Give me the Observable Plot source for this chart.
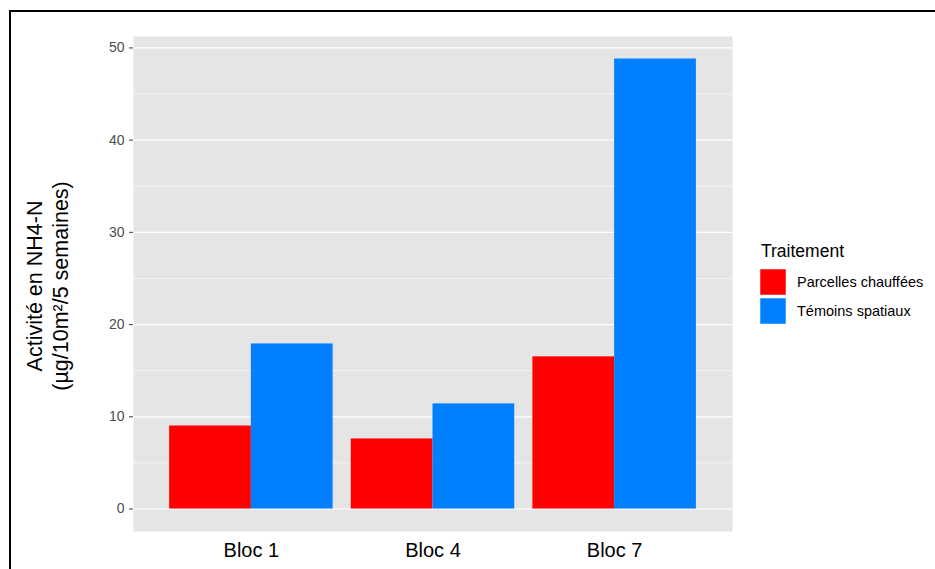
<!DOCTYPE html>
<html>
<head>
<meta charset="utf-8">
<script src="https://cdn.jsdelivr.net/npm/d3@7"></script>
<script src="https://cdn.jsdelivr.net/npm/@observablehq/plot@0.6"></script>
<style>
  html, body { margin: 0; padding: 0; background: #fff; }
  body { font-family: "Liberation Sans", Arial, Helvetica, sans-serif; }
  #wrap { position: relative; width: 935px; height: 569px; overflow: hidden; background: #fff; }
  #border { position: absolute; left: 9px; top: 10px; width: 1000px; height: 700px;
            border-top: 2px solid #000; border-left: 2px solid #000; box-sizing: border-box; }
  .layer { position: absolute; left: 0; top: 0; }
  #overlay { position: absolute; left: 0; top: 0; pointer-events: none; }
</style>
</head>
<body>
<div id="wrap">
  <div id="border"></div>
  <div id="back" class="layer"></div>
  <div id="front" class="layer"></div>
  <svg id="overlay" width="935" height="569"></svg>
</div>
<script>
// ---- data ----
const blocs = ["Bloc 1", "Bloc 4", "Bloc 7"];
const traitements = ["Parcelles chauffées", "Témoins spatiaux"];
const chauffees = [9.0, 7.6, 16.5];
const temoins = [17.9, 11.4, 48.8];
const couleurs = ["#ff0000", "#0080ff"];
const yTicks = [0, 10, 20, 30, 40, 50];
const yMinor = [5, 15, 25, 35, 45];
const yTitle = ["Activité en NH4-N", "(µg/10m²/5 semaines)"];
const legendTitle = "Traitement";

const rows = [];
blocs.forEach((b, i) => {
  rows.push({bloc: b, traitement: traitements[0], valeur: chauffees[i]});
  rows.push({bloc: b, traitement: traitements[1], valeur: temoins[i]});
});

const maxV = d3.max(rows, d => d.valeur);
const pad = maxV * 0.05;
const ff = '"Liberation Sans", Arial, sans-serif';

const common = {
  width: 935,
  height: 569,
  marginLeft: 133,
  marginRight: 203,
  marginTop: 36,
  marginBottom: 38,
  style: {fontFamily: ff, background: "transparent", overflow: "visible"}
};

// background panel: grey panel, grid lines, y axis
const back = Plot.plot({
  ...common,
  x: {domain: [0, 1], axis: null},
  y: {domain: [-pad, maxV + pad], label: null},
  marks: [
    Plot.frame({fill: "#e5e5e5", stroke: null}),
    Plot.ruleY(yMinor, {stroke: "#ffffff", strokeWidth: 0.6}),
    Plot.ruleY(yTicks, {stroke: "#ffffff", strokeWidth: 1.2}),
    Plot.axisY(yTicks, {tickSize: 4, tickPadding: 5, fontSize: 14, color: "#4d4d4d", strokeWidth: 1.1, label: null})
  ]
});
document.getElementById("back").appendChild(back);

// foreground: dodged bars
const front = Plot.plot({
  ...common,
  fx: {domain: blocs, paddingInner: 0, paddingOuter: 0.149, round: false, label: null},
  x: {domain: traitements, paddingInner: 0, paddingOuter: 0.111, round: false, axis: null},
  y: {domain: [-pad, maxV + pad], axis: null},
  color: {domain: traitements, range: couleurs},
  marks: [
    Plot.barY(rows, {fx: "bloc", x: "traitement", y: "valeur", fill: "traitement"}),
    Plot.axisFx({anchor: "bottom", tickSize: 0, tickPadding: 11, fontSize: 20, color: "#000", label: null})
  ]
});
document.getElementById("front").appendChild(front);

// ---- y title and legend (text overlay) ----
const ov = d3.select("#overlay");
const gT = ov.append("g").attr("transform", "translate(0,286) rotate(-90)");
yTitle.forEach((t, i) => {
  gT.append("text")
    .attr("x", 0).attr("y", 42 + i * 26)
    .attr("text-anchor", "middle")
    .attr("font-family", ff).attr("font-size", 21.5).attr("fill", "#000")
    .text(t);
});

ov.append("text")
  .attr("x", 761).attr("y", 257)
  .attr("font-family", ff).attr("font-size", 17.5).attr("fill", "#000")
  .text(legendTitle);

traitements.forEach((t, i) => {
  const y0 = 269 + i * 29;
  ov.append("rect")
    .attr("x", 760).attr("y", y0).attr("width", 26).attr("height", 26)
    .attr("fill", couleurs[i]).attr("stroke", "#fff").attr("stroke-width", 0.5);
  ov.append("text")
    .attr("x", 797).attr("y", y0 + 18)
    .attr("font-family", ff).attr("font-size", 14.5).attr("fill", "#000")
    .text(t);
});
</script>
</body>
</html>
